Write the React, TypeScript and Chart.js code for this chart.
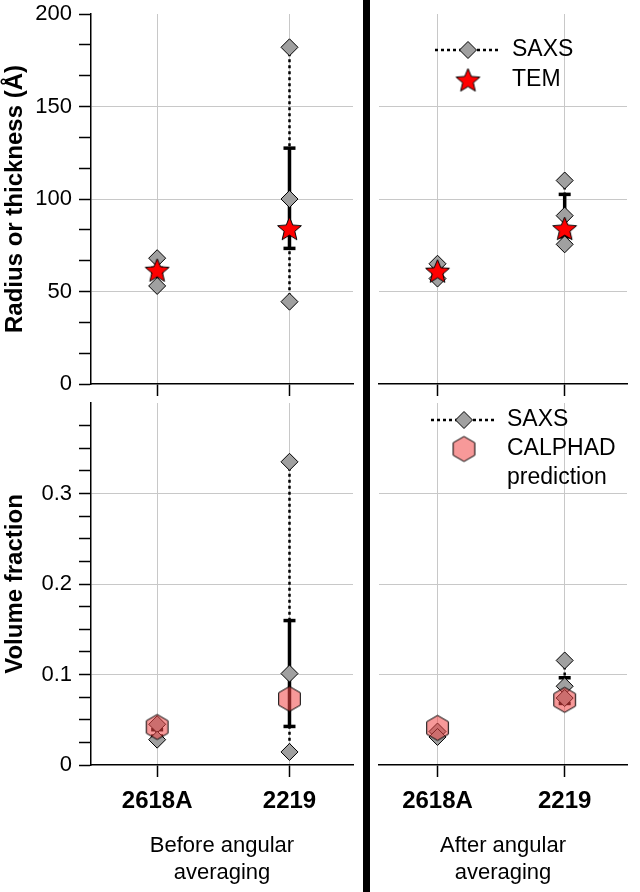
import React, { useEffect, useRef } from 'react';
import { Chart, registerables } from 'chart.js';

Chart.register(...registerables);

// ---------- data ----------
const categories = ['2618A', '2219'];

const radiusMajorTicks = [0, 50, 100, 150, 200];
const radiusMinorTicks = [16.667, 33.333, 66.667, 83.333, 116.667, 133.333, 166.667, 183.333];
const fractionMajorTicks = [0, 0.1, 0.2, 0.3];
const fractionMinorTicks = [0.025, 0.05, 0.075, 0.125, 0.15, 0.175, 0.225, 0.25, 0.275, 0.325, 0.35, 0.375];

// Before angular averaging
const saxsRadiusBefore = [[68, 53], [182, 100, 44.5]];
const temRadiusBefore = [61.5, 84];
const temErrLowBefore = [60.5, 73.3];
const temErrHighBefore = [62.5, 127.5];
const saxsFractionBefore = [[0.045, 0.028], [0.335, 0.101, 0.0144]];
const calphadBefore = [0.042, 0.073];
const fracErrLowBefore = [0.032, 0.0426];
const fracErrHighBefore = [0.039, 0.1596];

// After angular averaging
const saxsRadiusAfter = [[65, 57], [110, 91, 75.5]];
const temRadiusAfter = [61, 84];
const temErrLowAfter = [60, 79.5];
const temErrHighAfter = [62, 102.5];
const saxsFractionAfter = [[0.037, 0.031], [0.1155, 0.087, 0.074]];
const calphadAfter = [0.041, 0.072];
const fracErrLowAfter = [0.032, 0.068];
const fracErrHighAfter = [0.037, 0.0964];

const yTitleTop = 'Radius or thickness (Å)';
const yTitleBottom = 'Volume fraction';
const xTitleBefore = ['Before angular', 'averaging'];
const xTitleAfter = ['After angular', 'averaging'];

// ---------- styles ----------
const FONT = "'Liberation Sans', Arial, Helvetica, sans-serif";
const GRID = '#c8c8c8';
const DIAMOND_FILL = '#a0a0a0';
const HEX_FILL = 'rgba(240,70,70,0.55)';

function makeStar(R: number, r: number): HTMLCanvasElement {
  const c = document.createElement('canvas');
  const s = Math.ceil(2 * R + 4);
  c.width = s; c.height = s;
  const g = c.getContext('2d')!;
  g.beginPath();
  for (let k = 0; k < 10; k++) {
    const a = -Math.PI / 2 + (k * Math.PI) / 5;
    const rad = k % 2 === 0 ? R : r;
    const px = s / 2 + rad * Math.cos(a);
    const py = s / 2 + 1 + rad * Math.sin(a);
    if (k === 0) g.moveTo(px, py); else g.lineTo(px, py);
  }
  g.closePath();
  g.fillStyle = '#ff0000';
  g.fill();
  g.lineWidth = 1;
  g.strokeStyle = '#000';
  g.stroke();
  return c;
}

function makeHex(R: number): HTMLCanvasElement {
  const c = document.createElement('canvas');
  const s = Math.ceil(2 * R + 4);
  c.width = s; c.height = s;
  const g = c.getContext('2d')!;
  g.beginPath();
  for (let k = 0; k < 6; k++) {
    const a = -Math.PI / 2 + (k * Math.PI) / 3;
    const px = s / 2 + R * Math.cos(a);
    const py = s / 2 + R * Math.sin(a);
    if (k === 0) g.moveTo(px, py); else g.lineTo(px, py);
  }
  g.closePath();
  g.fillStyle = HEX_FILL;
  g.fill();
  g.lineWidth = 1;
  g.strokeStyle = '#000';
  g.stroke();
  return c;
}

type LegendItem = { label: string[]; marker: 'saxs' | 'star' | 'hex'; x: number; y: number; tx: number };

type Panel = {
  left: number; top: number; width: number; height: number;
  pad: { left: number; right: number; top: number; bottom: number };
  yAxisWidth: number; xAxisHeight: number;
  xMin: number; xMax: number;
  yMax: number; major: number[]; minor: number[];
  showY: boolean; showXLabels: boolean;
  yTitle?: string; xTitle?: string[];
  saxs: number[][]; main: number[]; errLow: number[]; errHigh: number[];
  kind: 'star' | 'hex';
  legend?: LegendItem[];
};

const panels: Panel[] = [
  {
    left: 0, top: 0, width: 366, height: 400,
    pad: { left: 0, right: 3, top: 14, bottom: 0 }, yAxisWidth: 91, xAxisHeight: 16,
    xMin: -0.5, xMax: 1.48, yMax: 200, major: radiusMajorTicks, minor: radiusMinorTicks,
    showY: true, showXLabels: false, yTitle: yTitleTop,
    saxs: saxsRadiusBefore, main: temRadiusBefore, errLow: temErrLowBefore, errHigh: temErrHighBefore, kind: 'star',
  },
  {
    left: 366, top: 0, width: 274, height: 400,
    pad: { left: 4, right: 2, top: 14, bottom: 0 }, yAxisWidth: 0, xAxisHeight: 16,
    xMin: -0.46, xMax: 1.49, yMax: 200, major: radiusMajorTicks, minor: radiusMinorTicks,
    showY: false, showXLabels: false,
    saxs: saxsRadiusAfter, main: temRadiusAfter, errLow: temErrLowAfter, errHigh: temErrHighAfter, kind: 'star',
    legend: [
      { label: ['SAXS'], marker: 'saxs', x: 102, y: 50, tx: 146 },
      { label: ['TEM'], marker: 'star', x: 102, y: 80, tx: 146 },
    ],
  },
  {
    left: 0, top: 390, width: 366, height: 502,
    pad: { left: 0, right: 3, top: 7, bottom: 0 }, yAxisWidth: 91, xAxisHeight: 127,
    xMin: -0.5, xMax: 1.48, yMax: 0.4, major: fractionMajorTicks, minor: fractionMinorTicks,
    showY: true, showXLabels: true, yTitle: yTitleBottom, xTitle: xTitleBefore,
    saxs: saxsFractionBefore, main: calphadBefore, errLow: fracErrLowBefore, errHigh: fracErrHighBefore, kind: 'hex',
  },
  {
    left: 366, top: 390, width: 274, height: 502,
    pad: { left: 4, right: 2, top: 7, bottom: 0 }, yAxisWidth: 0, xAxisHeight: 127,
    xMin: -0.46, xMax: 1.49, yMax: 0.4, major: fractionMajorTicks, minor: fractionMinorTicks,
    showY: false, showXLabels: true, xTitle: xTitleAfter,
    saxs: saxsFractionAfter, main: calphadAfter, errLow: fracErrLowAfter, errHigh: fracErrHighAfter, kind: 'hex',
    legend: [
      { label: ['SAXS'], marker: 'saxs', x: 98, y: 30, tx: 141 },
      { label: ['CALPHAD', 'prediction'], marker: 'hex', x: 98, y: 59, tx: 141 },
    ],
  },
];

function zeroPad(s: any) {
  s.paddingLeft = 0; s.paddingRight = 0; s.paddingTop = 0; s.paddingBottom = 0;
}

function buildChart(canvas: HTMLCanvasElement, p: Panel, star: HTMLCanvasElement, hex: HTMLCanvasElement) {
  const datasets: any[] = [];
  categories.forEach((_, i) => {
    datasets.push({
      data: [{ x: i, y: p.errLow[i] }, { x: i, y: p.errHigh[i] }],
      showLine: true, borderColor: '#000', borderWidth: 3.5,
      pointStyle: 'line', pointRadius: 6, pointBorderWidth: 3.5, pointBorderColor: '#000',
      order: 3, clip: false,
    });
  });
  p.saxs.forEach((vals, i) => {
    datasets.push({
      data: vals.map((y) => ({ x: i, y })),
      showLine: true, borderColor: '#000', borderWidth: 2.5, borderDash: [3, 3],
      pointStyle: 'rectRot', pointRadius: 8.5, pointBackgroundColor: DIAMOND_FILL,
      pointBorderColor: '#000', pointBorderWidth: 1, order: 2, clip: false,
    });
  });
  datasets.push({
    data: p.main.map((y, i) => ({ x: i, y })),
    showLine: false, pointStyle: p.kind === 'star' ? star : hex, pointRadius: 12,
    order: 1, clip: false,
  });

  const legendPlugin = {
    id: 'customLegend',
    afterDraw(chart: any) {
      if (!p.legend) return;
      const ctx = chart.ctx as CanvasRenderingContext2D;
      ctx.save();
      for (const it of p.legend) {
        if (it.marker === 'saxs') {
          ctx.beginPath();
          ctx.setLineDash([3, 3]);
          ctx.lineWidth = 2.5;
          ctx.strokeStyle = '#000';
          ctx.moveTo(it.x - 33, it.y);
          ctx.lineTo(it.x + 33, it.y);
          ctx.stroke();
          ctx.setLineDash([]);
          ctx.beginPath();
          const r = 8.5;
          ctx.moveTo(it.x, it.y - r);
          ctx.lineTo(it.x + r, it.y);
          ctx.lineTo(it.x, it.y + r);
          ctx.lineTo(it.x - r, it.y);
          ctx.closePath();
          ctx.fillStyle = DIAMOND_FILL;
          ctx.fill();
          ctx.lineWidth = 1;
          ctx.stroke();
        } else {
          const img = it.marker === 'star' ? star : hex;
          ctx.drawImage(img, it.x - img.width / 2, it.y - img.height / 2);
        }
        ctx.fillStyle = '#000';
        ctx.font = `23px ${FONT}`;
        ctx.textBaseline = 'middle';
        ctx.textAlign = 'left';
        it.label.forEach((t, k) => ctx.fillText(t, it.tx, it.y + k * 29));
      }
      ctx.restore();
    },
  };

  const allY = [...p.major, ...p.minor].sort((a, b) => a - b);

  return new Chart(canvas, {
    type: 'scatter',
    data: { datasets },
    options: {
      responsive: false,
      animation: false,
      devicePixelRatio: 1,
      events: [],
      layout: { padding: p.pad },
      plugins: { legend: { display: false }, tooltip: { enabled: false } },
      scales: {
        x: {
          type: 'linear', min: p.xMin, max: p.xMax,
          afterBuildTicks: (s: any) => { s.ticks = categories.map((_, i) => ({ value: i })); },
          afterFit: (s: any) => { s.height = p.xAxisHeight; zeroPad(s); },
          grid: { color: GRID, lineWidth: 1, drawTicks: true, tickLength: 12, tickColor: '#000', tickWidth: 1.5 },
          border: { display: true, color: '#000', width: 1.5 },
          ticks: {
            display: p.showXLabels, autoSkip: false, maxRotation: 0, padding: 10, color: '#000',
            font: { family: FONT, size: 24, weight: 'bold' },
            callback: (v: any) => categories[Math.round(Number(v))] ?? '',
          },
          title: p.xTitle
            ? { display: true, text: p.xTitle, color: '#000', font: { family: FONT, size: 22, lineHeight: 27 / 22 }, padding: { top: 0, bottom: 5.5 } }
            : { display: false },
        },
        y: {
          type: 'linear', min: 0, max: p.yMax,
          afterBuildTicks: (s: any) => { s.ticks = allY.map((v) => ({ value: v })); },
          afterFit: (s: any) => { s.width = p.yAxisWidth; zeroPad(s); },
          grid: {
            color: (c: any) => (c.tick && p.major.includes(c.tick.value) && c.tick.value !== 0 && c.tick.value !== p.yMax ? GRID : 'rgba(0,0,0,0)'),
            lineWidth: 1,
            drawTicks: p.showY, tickLength: 12, tickColor: p.showY ? '#000' : 'rgba(0,0,0,0)', tickWidth: 1.5,
          },
          border: { display: p.showY, color: '#000', width: 1.5 },
          ticks: {
            display: p.showY, autoSkip: false, padding: 7, color: '#000',
            font: { family: FONT, size: 22 },
            callback: (v: any) => (p.major.includes(Number(v)) ? String(v) : ''),
          },
          title: p.yTitle
            ? { display: true, text: p.yTitle, color: '#000', font: { family: FONT, size: 24, weight: 'bold' }, padding: { top: 1, bottom: 0 } }
            : { display: false },
        },
      },
    } as any,
    plugins: [legendPlugin],
  });
}

export default function App() {
  const refs = [useRef<HTMLCanvasElement>(null), useRef<HTMLCanvasElement>(null), useRef<HTMLCanvasElement>(null), useRef<HTMLCanvasElement>(null)];

  useEffect(() => {
    const star = makeStar(12.5, 5.6);
    const hex = makeHex(12.5);
    const charts = panels.map((p, i) => buildChart(refs[i].current!, p, star, hex));
    return () => charts.forEach((c) => c.destroy());
  }, []);

  return (
    <div style={{ position: 'absolute', left: 0, top: 0, width: 640, height: 892, background: '#fff', overflow: 'hidden' }}>
      {panels.map((p, i) => (
        <canvas
          key={i}
          ref={refs[i]}
          width={p.width}
          height={p.height}
          style={{ position: 'absolute', left: p.left, top: p.top, width: p.width, height: p.height, display: 'block' }}
        />
      ))}
      <div style={{ position: 'absolute', left: 363, top: 0, width: 7, height: 892, background: '#000' }} />
    </div>
  );
}
